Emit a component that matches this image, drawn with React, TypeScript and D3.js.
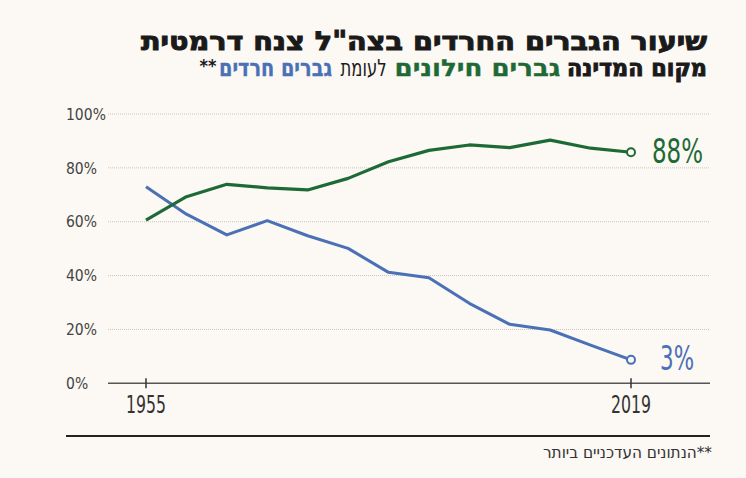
import React from 'react';
import * as d3 from 'd3';

const secularMen = [60.6, 69.3, 73.9, 72.6, 71.8, 76.1, 82.3, 86.5, 88.5, 87.5, 90.3, 87.3, 85.8];
const harediMen = [73.0, 62.8, 55.1, 60.4, 54.8, 50.1, 41.2, 39.2, 29.7, 21.9, 19.8, 14.2, 8.7];
const yTicks = [0, 20, 40, 60, 80, 100];
const yearLabels = ['1955', '2019'];
const endLabels = ['88%', '3%'];

const BG = '#fcf8f3';
const GREEN = '#1e6a36';
const BLUE = '#4a70b6';
const INK = '#1a1a1a';
const GREY = '#444';
const COND = '"DejaVu Sans Condensed", "Liberation Sans Narrow", "DejaVu Sans", sans-serif';

const width = 746;
const height = 478;

const x = d3.scaleLinear().domain([0, secularMen.length - 1]).range([146, 631]);
const y = d3.scaleLinear().domain([0, 100]).range([383.3, 114]);

const line = d3.line<number>()
  .x((_, i) => x(i))
  .y(d => y(d));

const App: React.FC = () => {
  const last = secularMen.length - 1;
  return (
    <svg width={width} height={height}
      style={{ position: 'absolute', top: 0, left: 0, background: BG }}>
      <rect width={width} height={height} fill={BG} />

      {/* title */}
      <text x={424} y={50} textAnchor="middle" direction="rtl" fontFamily={COND}
        fontWeight={700} fontSize={26} fill={INK} stroke={INK} strokeWidth={0.9}
        textLength={566} lengthAdjust="spacingAndGlyphs">
        שיעור הגברים החרדים בצה"ל צנח דרמטית
      </text>
      <g fontFamily={COND} fontSize={23}>
        <text x={637} y={76} textAnchor="middle" direction="rtl" fontWeight={700} fill={INK}
          stroke={INK} strokeWidth={0.9}
          textLength={140} lengthAdjust="spacingAndGlyphs">מקום המדינה</text>
        <text x={477.5} y={76} textAnchor="middle" direction="rtl" fontWeight={700} fill={GREEN}
          stroke={GREEN} strokeWidth={0.3}
          textLength={166} lengthAdjust="spacingAndGlyphs">גברים חילונים</text>
        <text x={363.5} y={76} textAnchor="middle" direction="rtl" fontWeight={400} fill={INK}
          textLength={46} lengthAdjust="spacingAndGlyphs">לעומת</text>
        <text x={275.5} y={76} textAnchor="middle" direction="rtl" fontWeight={700} fill={BLUE}
          stroke={BLUE} strokeWidth={0.3}
          textLength={113} lengthAdjust="spacingAndGlyphs">גברים חרדים</text>
        <text x={208} y={72} textAnchor="middle" fontSize={17} fontWeight={700} fill={INK}
          textLength={17} lengthAdjust="spacingAndGlyphs">**</text>
      </g>

      {/* grid + y labels */}
      {yTicks.map(t => (
        <g key={t}>
          {t > 0 && (
            <line x1={108} x2={710} y1={y(t)} y2={y(t)} stroke="#c9c6c2" strokeWidth={1}
              strokeDasharray="1,1" />
          )}
          <text x={66} y={y(t)} dy="0.37em" fontFamily={COND} fontSize={15.5} fill={GREY}>
            {t}%
          </text>
        </g>
      ))}

      {/* x axis */}
      <line x1={108} x2={710} y1={y(0)} y2={y(0)} stroke="#555" strokeWidth={1.5} />
      {[0, last].map((i, k) => (
        <g key={i}>
          <line x1={x(i)} x2={x(i)} y1={y(0) - 5} y2={y(0) + 5} stroke="#333" strokeWidth={1.5} />
          <text x={x(i)} y={413} textAnchor="middle" fontFamily={COND} fontSize={24} fill="#333"
            textLength={40} lengthAdjust="spacingAndGlyphs">
            {yearLabels[k]}
          </text>
        </g>
      ))}

      {/* series */}
      <path d={line(harediMen)!} fill="none" stroke={BLUE} strokeWidth={3}
        strokeLinejoin="round" />
      <path d={line(secularMen)!} fill="none" stroke={GREEN} strokeWidth={3.2}
        strokeLinejoin="round" />
      <circle cx={x(last)} cy={y(secularMen[last])} r={4} fill={BG} stroke={GREEN} strokeWidth={2} />
      <circle cx={x(last)} cy={y(harediMen[last])} r={4} fill={BG} stroke={BLUE} strokeWidth={2} />

      <text x={652} y={163} fontFamily={COND} fontSize={33} fontWeight={300} fill={GREEN}
        textLength={51} lengthAdjust="spacingAndGlyphs">{endLabels[0]}</text>
      <text x={660} y={370} fontFamily={COND} fontSize={33} fontWeight={300} fill={BLUE}
        textLength={34} lengthAdjust="spacingAndGlyphs">{endLabels[1]}</text>

      {/* footer */}
      <line x1={66} x2={710} y1={436} y2={436} stroke="#222" strokeWidth={2} />
      <text x={627.5} y={458} textAnchor="middle" direction="rtl" fontFamily={COND} fontSize={16}
        fill="#333" textLength={169} lengthAdjust="spacingAndGlyphs">**הנתונים העדכניים ביותר</text>
    </svg>
  );
};

export default App;
